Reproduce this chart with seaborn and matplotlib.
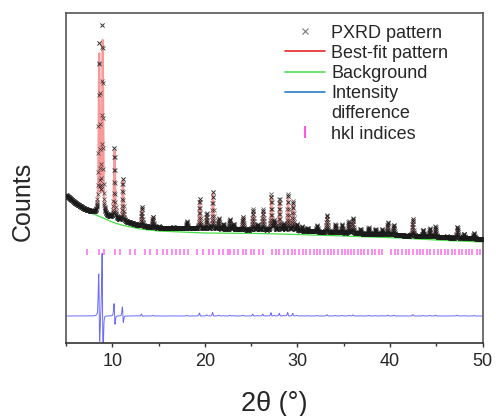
import numpy as np
import pandas as pd
import seaborn as sns
import matplotlib
matplotlib.use("Agg")
import matplotlib.pyplot as plt
from matplotlib.lines import Line2D
from matplotlib.ticker import MultipleLocator

# ---------------- data ----------------
# refined background (green line) control points (2theta, counts)
bkg_x = [5, 6, 7, 8, 9, 10, 11, 12, 13, 15, 20, 26, 30, 35, 41, 45, 50]
bkg_y = [1460, 1390, 1320, 1290, 1250, 1210, 1180, 1160, 1140, 1120, 1100,
         1095, 1085, 1070, 1050, 1030, 1010]

# observed baseline between reflections (2theta, counts)
base_x = [5, 6, 7, 8, 9, 10, 11, 12, 13, 15, 20, 25, 30, 35, 40, 45, 50]
base_y = [1480, 1400, 1340, 1300, 1270, 1250, 1220, 1200, 1170, 1150, 1140,
          1130, 1120, 1100, 1080, 1060, 1040]

# reflections seen in the pattern: position, observed height, fitted height, fit offset
peak_pos = [8.57, 8.93, 10.23, 11.13, 13.19, 14.38, 15.06, 16.6, 18.06, 19.45,
            20.2, 20.87, 21.5, 22.0, 22.7, 23.1, 24.11, 25.2, 25.7, 26.28,
            27.18, 27.5, 28.07, 28.5, 28.98, 29.52, 29.95, 30.5, 31.1, 32.12,
            33.2, 34.1, 34.82, 35.54, 36.0, 36.8, 37.7, 38.43, 39.15, 39.76,
            40.41, 42.47, 43.58, 44.3, 44.92, 46.18, 47.27, 47.99, 49.07]
obs_height = [1710, 1910, 710, 430, 195, 105, 15, 10, 75, 305,
              155, 375, 105, 55, 105, 55, 125, 205, 55, 205,
              355, 95, 315, 65, 365, 295, 65, 45, 35, 65,
              175, 85, 85, 115, 155, 45, 65, 55, 55, 125,
              105, 175, 65, 85, 105, 10, 115, 45, 55]
fit_height = [1600, 1730, 680, 410, 182, 98, 14, 9, 69, 282,
              144, 348, 97, 51, 97, 51, 116, 190, 51, 190,
              330, 88, 293, 60, 338, 274, 60, 42, 32, 60,
              162, 79, 79, 107, 144, 42, 60, 51, 51, 116,
              97, 162, 60, 79, 97, 9, 107, 42, 51]
fit_shift = [0.022, 0.03, 0.016, 0.02, 0.005, 0.0, 0.0, 0.0, 0.0, 0.004,
             0.0, 0.004, 0.0, 0.0, 0.0, 0.0, 0.0, 0.003, 0.0, 0.003,
             0.004, 0.0, 0.003, 0.0, 0.004, 0.003, 0.0, 0.0, 0.0, 0.0,
             0.0, 0.0, 0.0, 0.0, 0.0, 0.0, 0.0, 0.0, 0.0, 0.0,
             0.0, 0.0, 0.0, 0.0, 0.0, 0.0, 0.0, 0.0, 0.0]

# hkl reflection marks
hkl_pos = [7.30, 8.61, 9.11, 10.30, 10.84, 11.92, 12.46, 13.55, 14.09, 14.88,
           15.46, 15.96, 16.43, 16.90, 17.33, 17.77, 18.23, 19.20, 19.85, 20.40,
           20.90, 21.55, 21.91, 22.45, 22.74, 23.10, 23.61, 24.07, 24.44, 24.98,
           25.34, 25.88, 26.24, 27.21, 27.69, 28.04, 28.58, 29.02, 29.37, 29.74,
           30.20, 30.56, 30.93, 31.40, 31.75, 32.12, 32.48, 32.84, 33.27, 33.63,
           33.99, 34.42, 34.78, 35.15, 35.51, 35.80, 36.16, 36.51, 36.88, 37.24,
           37.59, 38.03, 38.39, 38.83, 39.18, 40.13, 40.56, 40.92, 41.27, 41.71,
           42.07, 42.54, 42.90, 43.26, 43.62, 43.98, 44.34, 44.81, 45.17, 45.53,
           45.97, 46.32, 46.68, 47.05, 47.41, 47.76, 48.20, 48.55, 48.91, 49.37,
           49.75]

x_ticks = [10, 20, 30, 40, 50]
diff_offset = 270
hkl_level = (880, 940)

# ---------------- profile on the instrument step grid ----------------
tt = np.arange(5.0, 50.0001, 0.02)
FWHM = 0.14


def pseudo_voigt(x, c, w=FWHM, eta=0.5):
    u = (x - c) / w
    return eta / (1 + 4 * u ** 2) + (1 - eta) * np.exp(-4 * np.log(2) * u ** 2)


base = np.interp(tt, base_x, base_y)
obs = base.copy()
fit = base.copy()
for p, ho, hf, s in zip(peak_pos, obs_height, fit_height, fit_shift):
    obs += ho * pseudo_voigt(tt, p)
    fit += hf * pseudo_voigt(tt, p + s)
diff = obs - fit + diff_offset

df = pd.DataFrame({"tt": tt, "obs": obs, "fit": fit, "diff": diff})
df_bkg = pd.DataFrame({"tt": bkg_x, "bkg": bkg_y})

# ---------------- figure ----------------
sns.set_theme(style="white")
plt.rcParams["font.family"] = ["Liberation Sans", "DejaVu Sans"]

fig = plt.figure(figsize=(4.96, 4.16), dpi=100)
ax = fig.add_axes([66 / 496, 1 - 343 / 416, 416.5 / 496, 330.3 / 416])

sns.lineplot(data=df, x="tt", y="fit", estimator=None, sort=False, ax=ax,
             color="#f03535", linewidth=1.5, alpha=0.5, zorder=2)
sns.lineplot(data=df, x="tt", y="obs", estimator=None, sort=False, ax=ax,
             color="#2a2a2a", marker="x", linestyle="none", markersize=2.7,
             markeredgewidth=0.55, markeredgecolor="#1a1a1a", alpha=0.75, zorder=3)
sns.lineplot(data=df_bkg, x="tt", y="bkg", estimator=None, sort=False, ax=ax,
             color="#44dd44", linewidth=0.9, zorder=2.5)
sns.lineplot(data=df, x="tt", y="diff", estimator=None, sort=False, ax=ax,
             color="#6a6aff", linewidth=0.7, zorder=2)
ax.vlines(hkl_pos, hkl_level[0], hkl_level[1], colors="#ff55ee",
          linewidth=1.3, alpha=0.75, zorder=2)

ax.set_xlim(5, 50)
ax.set_ylim(0, 3303)
ax.set_xticks(x_ticks)
ax.xaxis.set_minor_locator(MultipleLocator(5))
ax.set_yticks([])
ax.tick_params(axis="x", which="major", direction="out", length=3.2, width=1.0,
               color="#333333", labelsize=13, pad=4.3, bottom=True)
ax.tick_params(axis="x", which="minor", direction="out", length=2.4, width=1.0,
               color="#333333", bottom=True)
for side, sp in ax.spines.items():
    sp.set_visible(True)
    sp.set_linewidth(1.2)
    sp.set_color("#555555")
ax.spines["bottom"].set_color("#333333")

ax.set_xlabel("2θ (°)", fontsize=19.5, labelpad=15)
ax.set_ylabel("Counts", fontsize=18)
ax.yaxis.set_label_coords(-0.074, 0.43)

handles = [
    Line2D([], [], linestyle="none", marker="x", color="#777777", markersize=4,
           markeredgewidth=0.8),
    Line2D([], [], color="#e8262b", linewidth=1.2),
    Line2D([], [], color="#55e055", linewidth=1.2),
    Line2D([], [], color="#2b7bc8", linewidth=1.2),
    Line2D([], [], color="none"),
    Line2D([], [], linestyle="none", marker="|", color="#ff55dd", markersize=8,
           markeredgewidth=1.5),
]
labels = ["PXRD pattern", "Best-fit pattern", "Background", "Intensity",
          "difference", "hkl indices"]
ax.legend(handles, labels, loc="upper left", frameon=False, fontsize=13,
          bbox_to_anchor=(285 / 496, 1 - 24.5 / 416), bbox_transform=fig.transFigure,
          borderpad=0, borderaxespad=0, handlelength=2.2, handletextpad=0.37,
          labelspacing=0.18)

fig.savefig("out.png", dpi=100)
